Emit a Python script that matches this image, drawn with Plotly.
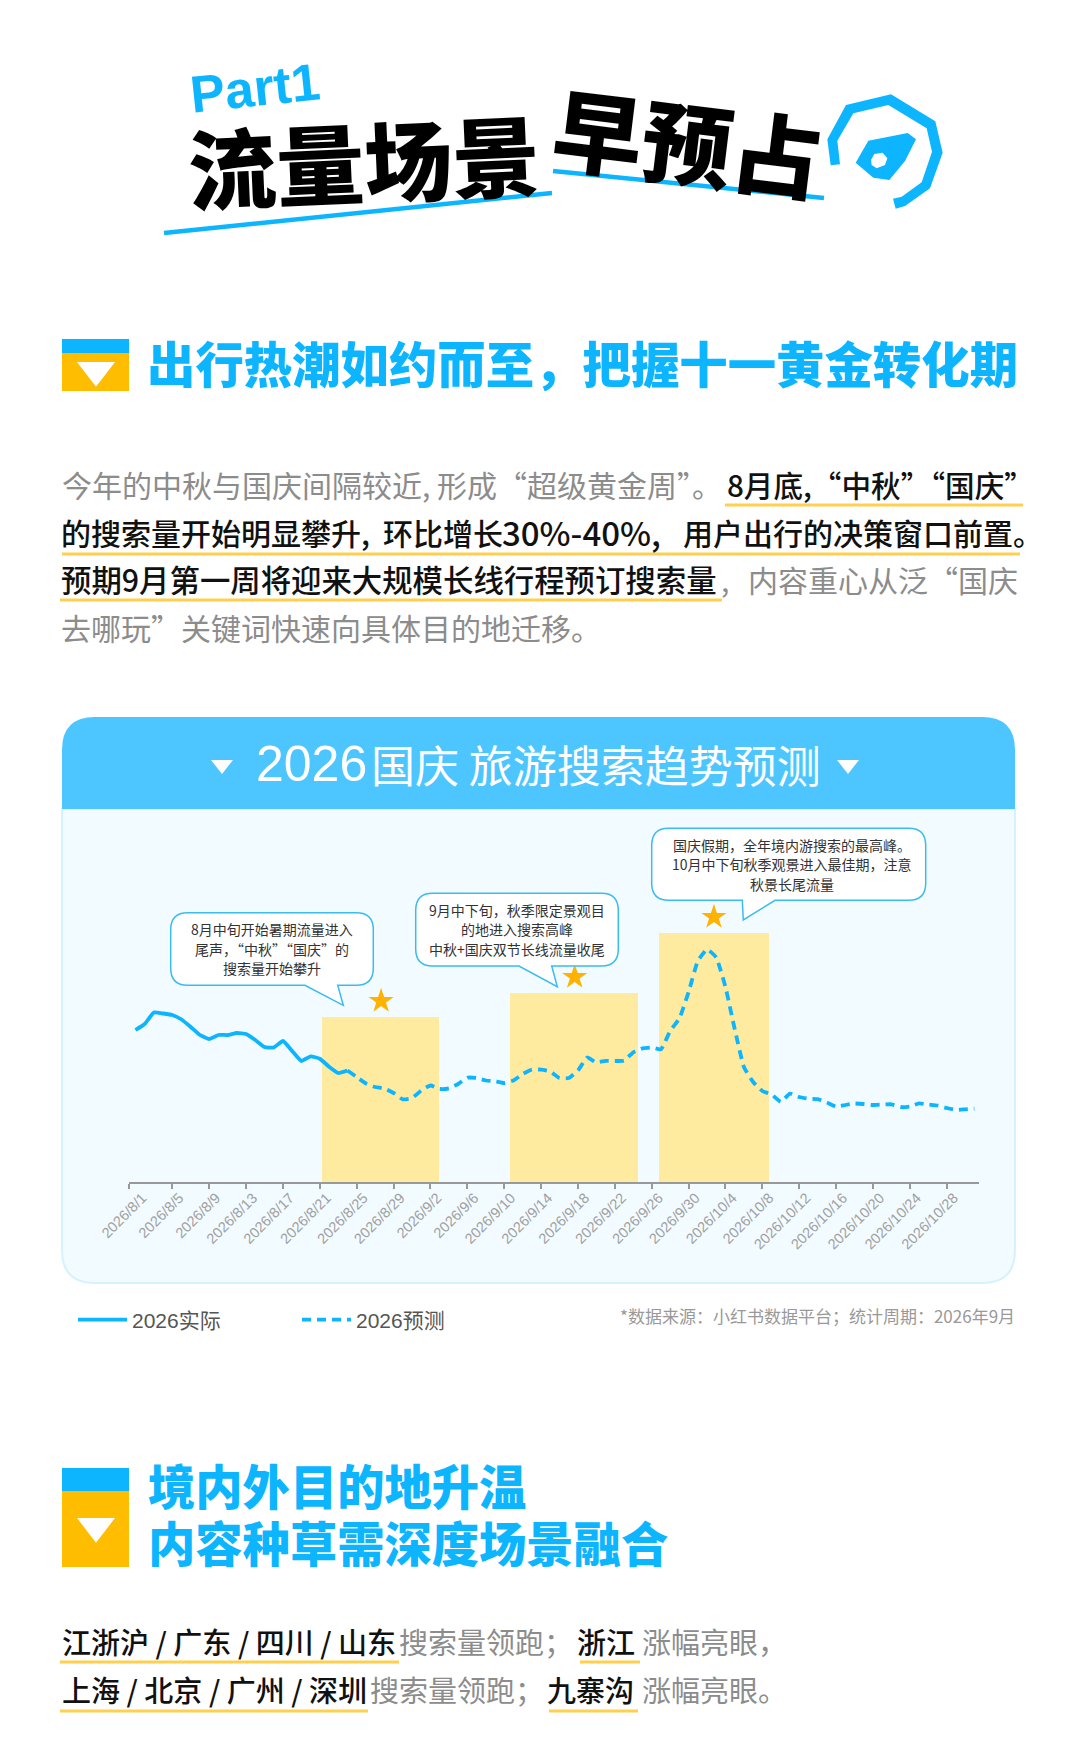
import pandas as pd
import plotly.graph_objects as go

W, H = 1070, 1753
CJK = "Noto Sans CJK SC"
LATIN = "Liberation Sans"
BLUE = "#0DB5FF"
ORANGE = "#FFBD00"
GRAY = "#8C8C8C"
INK = "#111111"
UNDERLINE = "#FFCF4D"
COMMA, SEMI, COLON = "\uff0c", "\uff1b", "\uff1a"

# Daten
dates = pd.date_range("2026-08-01", "2026-10-31").strftime("%Y-%m-%d").tolist()
actual_values = [152, 158, 169.5, 168.5, 167, 162.5, 155, 147, 143, 147, 147, 149, 148, 142,
                 135, 134.5, 141, 131, 121, 125.7, 123.3, 115.3, 109, 111.5]
forecast_values = [111.5, 105, 98.5, 95, 93.5, 89, 82.7, 84, 91.5, 96.5, 93, 93.7, 98, 104.3,
                   104, 101.5, 100.8, 99, 101.5, 108, 112.3, 112.4, 110.5, 104, 104, 111.5,
                   124.5, 119.5, 121.2, 121, 121.5, 129.7, 133.7, 134.5, 132.7, 151, 163.5,
                   190, 221, 232.7, 224.5, 195, 153, 115, 100, 91, 87.5, 80.3, 88.4, 85, 83.3,
                   82.8, 79.5, 75.3, 77, 78.5, 78, 77, 77.5, 77.7, 75, 75.5, 78.7, 77.5, 76.5,
                   74, 72, 72.7, 73.3]
tick_labels = ["2026/8/1", "2026/8/5", "2026/8/9", "2026/8/13", "2026/8/17", "2026/8/21",
               "2026/8/25", "2026/8/29", "2026/9/2", "2026/9/6", "2026/9/10", "2026/9/14",
               "2026/9/18", "2026/9/22", "2026/9/26", "2026/9/30", "2026/10/4", "2026/10/8",
               "2026/10/12", "2026/10/16", "2026/10/20", "2026/10/24", "2026/10/28"]
band_start = ["2026-08-21 07:00", "2026-09-10 17:00", "2026-09-26 19:00"]
band_end = ["2026-09-03 00:00", "2026-09-24 14:00", "2026-10-08 17:00"]
band_height = [165, 189, 249]

tick_dates = [pd.Timestamp(t).strftime("%Y-%m-%d") for t in tick_labels]
band_left = pd.to_datetime(band_start)
band_right = pd.to_datetime(band_end)
band_center = band_left + (band_right - band_left) / 2
band_width = [(r - l).total_seconds() * 1000 for l, r in zip(band_left, band_right)]

X_START, X_END = "2026-07-31 08:00", "2026-10-31 12:00"

fig = go.Figure()


# Hilfsfunktionen: Pixel -> paper
def P(x, y):
    return f"{x / W},{1 - y / H}"


def poly(points):
    return "M" + " L".join(P(x, y) for x, y in points) + " Z"


def add_path(path, fill, line=None, lw=0, layer="below"):
    fig.add_shape(type="path", xref="paper", yref="paper", path=path, fillcolor=fill, layer=layer,
                  line=dict(color=line or fill, width=lw))


def add_rect(x0, y0, x1, y1, fill):
    fig.add_shape(type="rect", xref="paper", yref="paper", x0=x0 / W, x1=x1 / W, y0=1 - y0 / H,
                  y1=1 - y1 / H, fillcolor=fill, line_width=0, layer="below")


def add_line(x0, y0, x1, y1, color, lw):
    fig.add_shape(type="line", xref="paper", yref="paper", x0=x0 / W, x1=x1 / W, y0=1 - y0 / H,
                  y1=1 - y1 / H, line=dict(color=color, width=lw), layer="below")


def add_text(x, y, text, size, color, anchor="left", family=CJK, weight=None, angle=0):
    if color == INK and weight is None:
        weight = 500
    fig.add_annotation(x=x / W, y=1 - y / H, xref="paper", yref="paper", text=text, showarrow=False,
                       xanchor=anchor, yanchor="middle", borderpad=0, textangle=angle,
                       font=dict(family=family, size=size, color=color, weight=weight))


def add_callout(x0, y0, x1, y1, tail, text_x, lines):
    r = 17
    path = (f"M{P(x0 + r, y0)} L{P(x1 - r, y0)} Q{P(x1, y0)} {P(x1, y0 + r)} L{P(x1, y1 - r)} "
            f"Q{P(x1, y1)} {P(x1 - r, y1)} L{P(tail[2], y1)} L{P(tail[1][0], tail[1][1])} "
            f"L{P(tail[0], y1)} L{P(x0 + r, y1)} Q{P(x0, y1)} {P(x0, y1 - r)} L{P(x0, y0 + r)} "
            f"Q{P(x0, y0)} {P(x0 + r, y0)} Z")
    add_path(path, "white", "#3BBCEF", 1.5, layer="above")
    for i, line in enumerate(lines):
        add_text(text_x, y0 + 16.5 + i * 19.5, line, 14, "#333333", anchor="center")


def add_section_icon(y0, y_split, y1, tri_y0, tri_y1):
    add_rect(62, y0, 129, y_split, BLUE)
    add_rect(62, y_split, 129, y1, ORANGE)
    add_path(poly([(79, tri_y0), (113, tri_y0), (96, tri_y1)]), "white", "white", 2)


# Titel
add_text(254.5, 88, "Part1", 52, BLUE, anchor="center", family=LATIN, weight=700, angle=-6)
add_text(364, 158, "流量场景", 88, "black", anchor="center", weight=900, angle=-2.5)
add_text(688, 140, "早预占", 90, "black", anchor="center", weight=900, angle=7)
add_line(164, 233, 552, 193, BLUE, 4.5)
add_line(553, 171, 824, 198, BLUE, 4.5)

# Pin-Symbol
pin_ring = [(62, 256), (52, 178), (108, 75), (243, 43), (376, 124), (398, 218), (360, 325), (285, 378),
            (257, 386), (249, 356), (275, 350), (335, 307), (366, 215), (350, 145), (235, 75), (130, 100),
            (82, 182), (90, 253)]
pin_body = [(175, 182), (293, 159), (318, 178), (285, 243), (238, 300), (190, 293), (137, 248)]
pin_hole = [(183, 240), (193, 222), (218, 218), (232, 235), (225, 255), (200, 265), (185, 255)]


def pin(points):
    return [(810 + a / 3, 80 + b / 3) for a, b in points]


add_path(poly(pin(pin_ring)), BLUE)
add_path(poly(pin(pin_body)) + " " + poly(pin(pin_hole)), BLUE)

# Abschnitt 1
add_section_icon(339, 353, 391, 363, 385)
add_text(145.5, 362, "出行热潮如约而至" + COMMA + "把握十一黄金转化期", 48.4, BLUE, weight=900)

# Fliesstext
add_text(61, 484, "今年的中秋与国庆间隔较近, 形成“超级黄金周”。", 30, GRAY)
add_text(726, 484, "8月底,“中秋”“国庆”", 29.6, INK)
add_text(60, 532, "的搜索量开始明显攀升,", 30, INK)
add_text(382, 532, "环比增长", 30, INK)
add_text(501, 532, "30%-40%,", 33, INK)
add_text(682, 532, "用户出行的决策窗口前置。", 30, INK)
add_text(60, 579, "预期9月第一周将迎来大规模长线行程预订搜索量", 30.4, INK)
add_text(720, 579, ",", 30, GRAY)
add_text(747, 579, "内容重心从泛", 30, GRAY)
add_text(1019, 579, "“国庆", 30, GRAY, anchor="right")
add_text(60, 627, "去哪玩”关键词快速向具体目的地迁移。", 30, GRAY)
add_line(725, 505, 1023, 505, UNDERLINE, 3)
add_line(62, 554, 1020, 554, UNDERLINE, 3)
add_line(60, 600, 722, 600, UNDERLINE, 3)

# Karte
add_path(f"M{P(62, 809)} L{P(62, 1250)} Q{P(62, 1283)} {P(95, 1283)} L{P(982, 1283)} "
         f"Q{P(1015, 1283)} {P(1015, 1250)} L{P(1015, 809)} Z", "#F2FBFF", "#D6F2FE", 2)
add_path(f"M{P(62, 809)} L{P(62, 750)} Q{P(62, 717)} {P(95, 717)} L{P(982, 717)} "
         f"Q{P(1015, 717)} {P(1015, 750)} L{P(1015, 809)} Z", "#4DC6FF")
add_path(poly([(211, 760), (233, 760), (222, 774)]), "white")
add_path(poly([(837, 760), (859, 760), (848, 774)]), "white")
add_text(255, 764, "2026", 50, "white", family=LATIN)
add_text(369.5, 764, "国庆 旅游搜索趋势预测", 44, "white")

# Sprechblasen
add_callout(170.7, 912.7, 373.3, 985.3, (305, (343.3, 1005.3), 337.7), 271.7,
            ["8月中旬开始暑期流量进入", "尾声" + COMMA + "“中秋”“国庆”的", "搜索量开始攀升"])
add_callout(415.7, 893.3, 618.3, 966, (519, (557.3, 986.7), 551.7), 516.7,
            ["9月中下旬" + COMMA + "秋季限定景观目", "的地进入搜索高峰", "中秋+国庆双节长线流量收尾"])
add_callout(651.7, 828.3, 925.7, 900.3, (742.3, (743.3, 920), 775), 791.7,
            ["国庆假期" + COMMA + "全年境内游搜索的最高峰。", "10月中下旬秋季观景进入最佳期" + COMMA + "注意", "秋景长尾流量"])

# Balken, Sterne, Linien
fig.add_trace(go.Bar(x=band_center, y=band_height, width=band_width, marker=dict(color="#FFEBA0", line_width=0),
                     showlegend=False, hoverinfo="skip"))
fig.add_trace(go.Scatter(x=band_center, y=[h + 16 for h in band_height], mode="markers", showlegend=False,
                         marker=dict(symbol="star", size=19, color="#FFB300", line_width=0), hoverinfo="skip"))
fig.add_trace(go.Scatter(x=dates[:len(actual_values)], y=actual_values, mode="lines", name="2026实际",
                         line=dict(color=BLUE, width=3.8, shape="spline", smoothing=0.4)))
fig.add_trace(go.Scatter(x=dates[len(actual_values) - 1:], y=forecast_values, mode="lines", name="2026预测",
                         line=dict(color=BLUE, width=3.8, dash="9px,6px", shape="spline", smoothing=0.4)))

# Quelle
add_text(1016, 1315, "*数据来源" + COLON + "小红书数据平台" + SEMI + "统计周期" + COLON + "2026年9月", 17, "#999999",
         anchor="right")

# Abschnitt 2
add_section_icon(1468, 1491, 1567, 1519, 1541)
add_text(147, 1484.5, "境内外目的地升温", 47.3, BLUE, weight=900)
add_text(147, 1541.5, "内容种草需深度场景融合", 47.3, BLUE, weight=900)

add_text(61, 1641, "江浙沪 / 广东 / 四川 / 山东", 29, INK)
add_text(398, 1641, "搜索量领跑" + SEMI, 29, GRAY)
add_text(576, 1641, "浙江", 29, INK)
add_text(641, 1641, "涨幅亮眼" + COMMA, 29, GRAY)
add_text(61, 1689, "上海 / 北京 / 广州 / 深圳", 29, INK)
add_text(369, 1689, "搜索量领跑" + SEMI, 29, GRAY)
add_text(546, 1689, "九寨沟", 29, INK)
add_text(641, 1689, "涨幅亮眼。", 29, GRAY)
add_line(60, 1662, 399, 1662, UNDERLINE, 3)
add_line(580, 1662, 640, 1662, UNDERLINE, 3)
add_line(60, 1711, 368, 1711, UNDERLINE, 3)
add_line(549, 1711, 638, 1711, UNDERLINE, 3)

# Layout
fig.update_layout(
    width=W,
    height=H,
    margin=dict(l=0, r=0, t=0, b=0, autoexpand=False),
    paper_bgcolor="white",
    plot_bgcolor="rgba(0,0,0,0)",
    bargap=0,
    xaxis=dict(
        type="date",
        domain=[129.3 / W, 979 / W],
        range=[X_START, X_END],
        tickmode="array",
        tickvals=tick_dates,
        ticktext=tick_labels,
        tickangle=-45,
        ticks="",
        ticklabelstandoff=0,
        ticklabelshift=7,
        tickfont=dict(family=LATIN, size=14.5, color="#A0A0A0"),
        showgrid=False,
        zeroline=False,
        showline=True,
        linecolor="#999999",
        linewidth=1.5,
        minor=dict(tickmode="array", tickvals=[X_START] + tick_dates[1:], ticks="outside", ticklen=5,
                   tickwidth=1.5, tickcolor="#999999", showgrid=False),
    ),
    yaxis=dict(domain=[1 - 1182 / H, 1 - 815 / H], range=[0, 367], visible=False),
    legend=dict(
        orientation="h",
        x=73 / W,
        y=1 - 1320 / H,
        xanchor="left",
        yanchor="middle",
        itemwidth=49,
        entrywidth=160,
        entrywidthmode="pixels",
        bgcolor="rgba(0,0,0,0)",
        font=dict(family=LATIN + ", " + CJK, size=21, color="#555555"),
    ),
)

fig.write_html("out.html", config={"displayModeBar": False}, post_script="document.body.style.margin='0'")
